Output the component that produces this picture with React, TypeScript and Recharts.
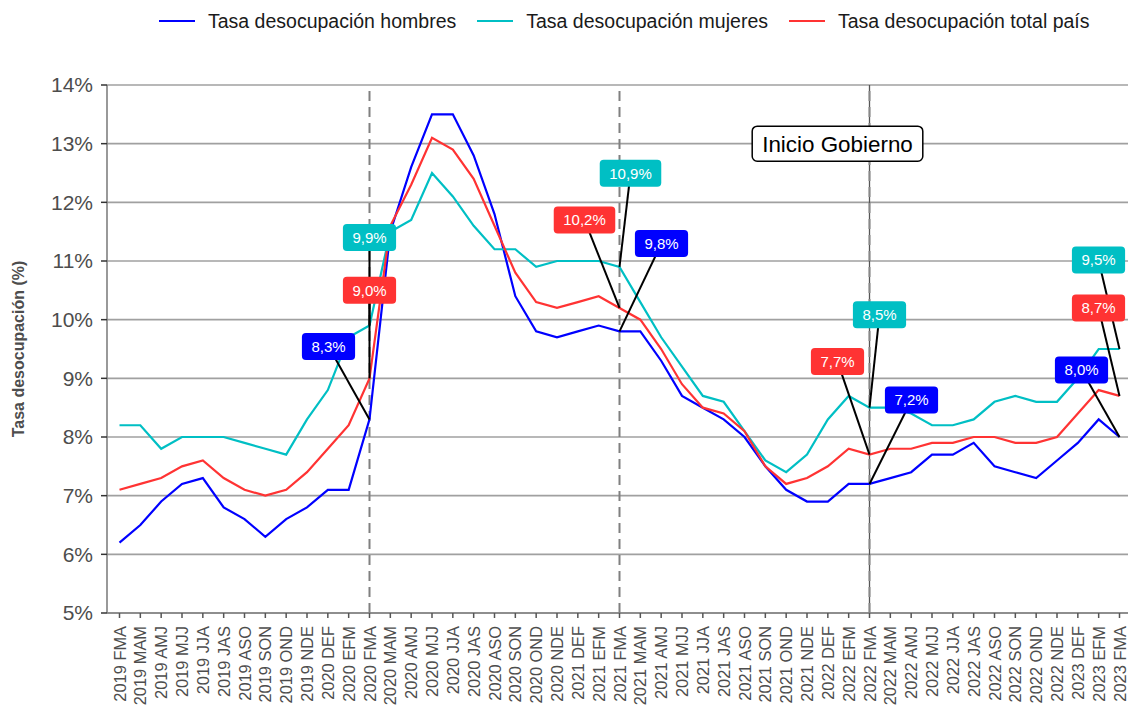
import React from 'react';
import {
  LineChart,
  Line,
  XAxis,
  YAxis,
  CartesianGrid,
  ReferenceLine,
  ReferenceDot,
  Legend,
} from 'recharts';

const FONT = '"Liberation Sans", Arial, Helvetica, sans-serif';

// ---- Data ----
const periods: string[] = [
  '2019 FMA', '2019 MAM', '2019 AMJ', '2019 MJJ', '2019 JJA', '2019 JAS', '2019 ASO', '2019 SON', '2019 OND', '2019 NDE',
  '2020 DEF', '2020 EFM', '2020 FMA', '2020 MAM', '2020 AMJ', '2020 MJJ', '2020 JJA', '2020 JAS', '2020 ASO', '2020 SON', '2020 OND', '2020 NDE',
  '2021 DEF', '2021 EFM', '2021 FMA', '2021 MAM', '2021 AMJ', '2021 MJJ', '2021 JJA', '2021 JAS', '2021 ASO', '2021 SON', '2021 OND', '2021 NDE',
  '2022 DEF', '2022 EFM', '2022 FMA', '2022 MAM', '2022 AMJ', '2022 MJJ', '2022 JJA', '2022 JAS', '2022 ASO', '2022 SON', '2022 OND', '2022 NDE',
  '2023 DEF', '2023 EFM', '2023 FMA',
];

const hombres: number[] = [
  6.2, 6.5, 6.9, 7.2, 7.3, 6.8, 6.6, 6.3, 6.6, 6.8,
  7.1, 7.1, 8.3, 11.5, 12.6, 13.5, 13.5, 12.8, 11.8, 10.4, 9.8, 9.7,
  9.8, 9.9, 9.8, 9.8, 9.3, 8.7, 8.5, 8.3, 8.0, 7.5, 7.1, 6.9,
  6.9, 7.2, 7.2, 7.3, 7.4, 7.7, 7.7, 7.9, 7.5, 7.4, 7.3, 7.6,
  7.9, 8.3, 8.0,
];

const mujeres: number[] = [
  8.2, 8.2, 7.8, 8.0, 8.0, 8.0, 7.9, 7.8, 7.7, 8.3,
  8.8, 9.7, 9.9, 11.5, 11.7, 12.5, 12.1, 11.6, 11.2, 11.2, 10.9, 11.0,
  11.0, 11.0, 10.9, 10.3, 9.7, 9.2, 8.7, 8.6, 8.1, 7.6, 7.4, 7.7,
  8.3, 8.7, 8.5, 8.5, 8.4, 8.2, 8.2, 8.3, 8.6, 8.7, 8.6, 8.6,
  9.0, 9.5, 9.5,
];

const total: number[] = [
  7.1, 7.2, 7.3, 7.5, 7.6, 7.3, 7.1, 7.0, 7.1, 7.4,
  7.8, 8.2, 9.0, 11.6, 12.3, 13.1, 12.9, 12.4, 11.6, 10.8, 10.3, 10.2,
  10.3, 10.4, 10.2, 10.0, 9.5, 8.9, 8.5, 8.4, 8.1, 7.5, 7.2, 7.3,
  7.5, 7.8, 7.7, 7.8, 7.8, 7.9, 7.9, 8.0, 8.0, 7.9, 7.9, 8.0,
  8.4, 8.8, 8.7,
];

const yTicks: number[] = [5, 6, 7, 8, 9, 10, 11, 12, 13, 14];
const dashedMarks: string[] = ['2020 FMA', '2021 FMA'];
const govStart = '2022 FMA';
const govLabel = 'Inicio Gobierno';
const govLabelY = 13;

const seriesNames = {
  hombres: 'Tasa desocupación hombres',
  mujeres: 'Tasa desocupación mujeres',
  total: 'Tasa desocupación total país',
};

const COLORS = {
  hombres: '#0000FF',
  mujeres: '#00BFC4',
  total: '#FF3333',
};

// callout placements (pixel offsets of label box centre from the point)
const calloutsHombres = [
  { index: 12, dx: -41, dy: -73 },
  { index: 24, dx: 42, dy: -88 },
  { index: 36, dx: 42, dy: -84 },
  { index: 48, dx: -38, dy: -67 },
];
const calloutsMujeres = [
  { index: 12, dx: 0, dy: -88 },
  { index: 24, dx: 11, dy: -93.5 },
  { index: 36, dx: 10, dy: -93 },
  { index: 48, dx: -21, dy: -89 },
];
const calloutsTotal = [
  { index: 12, dx: 0, dy: -88 },
  { index: 24, dx: -35, dy: -88 },
  { index: 36, dx: -32, dy: -93 },
  { index: 48, dx: -21, dy: -88 },
];

const data = periods.map((p, i) => ({
  periodo: p,
  hombres: hombres[i],
  mujeres: mujeres[i],
  total: total[i],
}));

const fmt = (v: number) => v.toFixed(1).replace('.', ',') + '%';

const textWidth = (s: string, size: number) => {
  let w = 0;
  for (const ch of s) {
    if (ch === ',' || ch === '.') w += 0.278;
    else if (ch === '%') w += 0.889;
    else w += 0.556;
  }
  return w * size;
};

type Callout = { index: number; dx: number; dy: number };

const segmentDot = (callouts: Callout[]) => (props: any) => {
  const { cx, cy, index } = props;
  const c = callouts.find((a) => a.index === index);
  if (!c || cx == null || cy == null) return <g key={`s${index}`} />;
  return (
    <g key={`s${index}`}>
      <line x1={cx} y1={cy} x2={cx + c.dx} y2={cy + c.dy} stroke="#000" strokeWidth={2} />
    </g>
  );
};

const boxDot = (callouts: Callout[], color: string) => (props: any) => {
  const { cx, cy, index, value } = props;
  const c = callouts.find((a) => a.index === index);
  if (!c || cx == null || cy == null) return <g key={`b${index}`} />;
  const v = Array.isArray(value) ? value[1] : value;
  const label = fmt(Number(v));
  const w = textWidth(label, 15) + 19;
  const h = 27;
  const bx = cx + c.dx;
  const by = cy + c.dy;
  return (
    <g key={`b${index}`}>
      <rect x={bx - w / 2} y={by - h / 2} width={w} height={h} rx={4} ry={4} fill={color} />
      <text
        x={bx}
        y={by + 5.4}
        textAnchor="middle"
        fill="#fff"
        fontSize={15}
        fontFamily={FONT}
      >
        {label}
      </text>
    </g>
  );
};

const XTick = (props: any) => {
  const { x, y, payload } = props;
  const ty = y + 8;
  return (
    <text
      x={x}
      y={ty}
      transform={`rotate(-90, ${x}, ${ty})`}
      textAnchor="end"
      dominantBaseline="central"
      fill="#4d4d4d"
      fontSize={16.4}
      fontFamily={FONT}
    >
      {payload.value}
    </text>
  );
};

const legendKeys: (keyof typeof seriesNames)[] = ['hombres', 'mujeres', 'total'];

const LegendContent = () => (
  <div style={{ height: 85, position: 'relative', fontFamily: FONT }}>
    <div
      style={{
        position: 'absolute',
        top: 8,
        left: 159,
        display: 'flex',
        alignItems: 'center',
        height: 26,
        whiteSpace: 'nowrap',
      }}
    >
      {legendKeys.map((k, i) => (
        <div key={k} style={{ display: 'flex', alignItems: 'center', marginLeft: i === 0 ? 0 : 21 }}>
          <div style={{ width: 36, height: 2.5, background: COLORS[k] }} />
          <span style={{ marginLeft: 13, fontSize: 19.5, color: '#1a1a1a', lineHeight: '26px' }}>
            {seriesNames[k]}
          </span>
        </div>
      ))}
    </div>
  </div>
);

const YTitle = (props: any) => {
  const vb = props.viewBox || { x: 0, y: 85, width: 107, height: 528 };
  const x = vb.x + 18;
  const y = vb.y + vb.height / 2;
  return (
    <text
      x={x}
      y={y}
      transform={`rotate(-90, ${x}, ${y})`}
      textAnchor="middle"
      dominantBaseline="central"
      fill="#4d4d4d"
      fontSize={16}
      fontWeight="bold"
      fontFamily={FONT}
    >
      Tasa desocupación (%)
    </text>
  );
};

const GovShape = (props: any) => {
  const { cx, cy } = props;
  if (cx == null || cy == null) return <g />;
  const w = 170.6;
  const h = 35;
  const bx = cx - 32;
  return (
    <g>
      <rect x={bx - w / 2} y={cy - h / 2} width={w} height={h} rx={5} ry={5} fill="#fff" stroke="#000" strokeWidth={1.5} />
      <text x={bx} y={cy + 8} textAnchor="middle" fill="#000" fontSize={22.4} fontFamily={FONT}>
        {govLabel}
      </text>
    </g>
  );
};

export default function App() {
  return (
    <div
      style={{
        position: 'fixed',
        left: 0,
        top: 0,
        width: 1128,
        height: 708,
        overflow: 'hidden',
        background: '#fff',
      }}
    >
      <LineChart
        width={1140}
        height={708}
        data={data}
        margin={{ top: 0, right: 8, bottom: 0, left: 0 }}
      >
        <CartesianGrid vertical={false} stroke="#a0a0a0" strokeWidth={1.6} />
        <XAxis
          dataKey="periodo"
          interval={0}
          height={95}
          padding={{ left: 12.5, right: 12.5 }}
          tick={<XTick />}
          tickSize={5}
          tickMargin={0}
          stroke="#808080"
          strokeWidth={1.6}
          tickLine={{ stroke: '#555', strokeWidth: 1.5 }}
        />
        <YAxis
          domain={[5, 14]}
          ticks={yTicks}
          allowDataOverflow
          width={107}
          tickFormatter={(v: number) => `${v}%`}
          tick={{ fill: '#4d4d4d', fontSize: 21, fontFamily: FONT }}
          tickSize={6}
          tickMargin={8}
          stroke="#808080"
          strokeWidth={1.6}
          tickLine={{ stroke: '#333', strokeWidth: 1.5 }}
          label={{ content: <YTitle /> }}
        />
        <Legend verticalAlign="top" align="left" content={<LegendContent />} />
        {dashedMarks.map((m) => (
          <ReferenceLine key={m} x={m} stroke="#808080" strokeWidth={2} strokeDasharray="10 6" />
        ))}
        <ReferenceLine x={govStart} stroke="#555" strokeWidth={1.3} />
        <ReferenceLine x={govStart} stroke="#888" strokeWidth={2} strokeDasharray="10 6" />
        <Line
          type="linear"
          dataKey="hombres"
          name={seriesNames.hombres}
          stroke={COLORS.hombres}
          strokeWidth={2.2}
          dot={false}
          activeDot={false}
          isAnimationActive={false}
        />
        <Line
          type="linear"
          dataKey="mujeres"
          name={seriesNames.mujeres}
          stroke={COLORS.mujeres}
          strokeWidth={2.2}
          dot={false}
          activeDot={false}
          isAnimationActive={false}
        />
        <Line
          type="linear"
          dataKey="total"
          name={seriesNames.total}
          stroke={COLORS.total}
          strokeWidth={2.2}
          dot={false}
          activeDot={false}
          isAnimationActive={false}
        />
        <ReferenceDot x={govStart} y={govLabelY} r={0} shape={<GovShape />} />
        {/* callout segments */}
        <Line dataKey="hombres" stroke="none" strokeWidth={0} legendType="none" dot={segmentDot(calloutsHombres)} activeDot={false} isAnimationActive={false} />
        <Line dataKey="mujeres" stroke="none" strokeWidth={0} legendType="none" dot={segmentDot(calloutsMujeres)} activeDot={false} isAnimationActive={false} />
        <Line dataKey="total" stroke="none" strokeWidth={0} legendType="none" dot={segmentDot(calloutsTotal)} activeDot={false} isAnimationActive={false} />
        {/* callout labels */}
        <Line dataKey="hombres" stroke="none" strokeWidth={0} legendType="none" dot={boxDot(calloutsHombres, COLORS.hombres)} activeDot={false} isAnimationActive={false} />
        <Line dataKey="mujeres" stroke="none" strokeWidth={0} legendType="none" dot={boxDot(calloutsMujeres, COLORS.mujeres)} activeDot={false} isAnimationActive={false} />
        <Line dataKey="total" stroke="none" strokeWidth={0} legendType="none" dot={boxDot(calloutsTotal, COLORS.total)} activeDot={false} isAnimationActive={false} />
      </LineChart>
    </div>
  );
}
